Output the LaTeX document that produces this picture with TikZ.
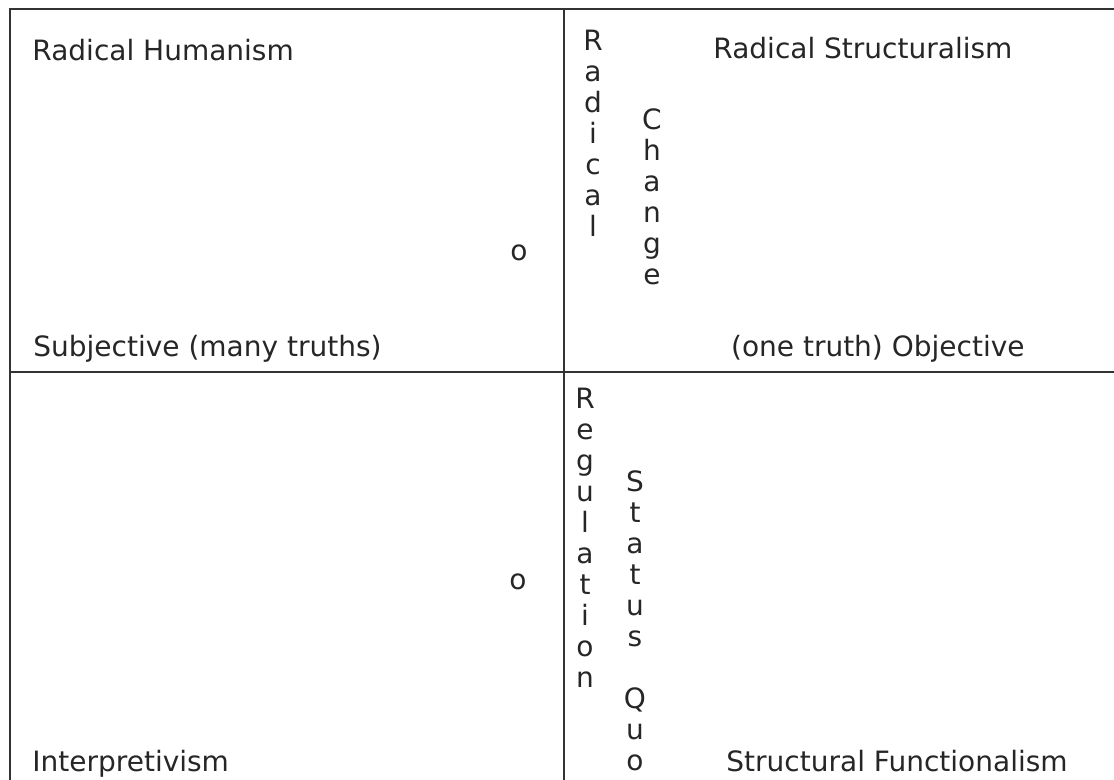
\documentclass[tikz,border=0pt]{standalone}
\usepackage{fontspec}
\setmainfont{DejaVu Sans}
\usetikzlibrary{calc}

\begin{document}
\begin{tikzpicture}[x=0.5pt,y=-0.5pt,
	lbl/.style={font=\fontsize{14}{15.5}\selectfont, inner sep=0pt, text=black!85},
	stack/.style={lbl, align=center, anchor=north},
	rule/.style={line width=1pt, draw=black!80}] % vier Felder
			\useasboundingbox (0,0) rectangle (1114,780);
			\coordinate (tl) at (10,9);
			\coordinate (tr) at (1114,9);
			\coordinate (bl) at (10,780);
			\coordinate (mt) at (564,9);
			\coordinate (mb) at (564,780);
			\coordinate (ml) at (10,372);
			\coordinate (mr) at (1114,372);

			\draw[rule] (bl) -- (tl) -- (tr);
			\draw[rule] (mt) -- (mb);
			\draw[rule] (ml) -- (mr);

			\node[lbl, anchor=base west] (hum) at (32,61) {Radical Humanism};
			\node[lbl, anchor=base west] (struc) at (713,59) {Radical Structuralism};
			\node[lbl, anchor=base west] (subj) at (33,357) {Subjective (many truths)};
			\node[lbl, anchor=base east] (obj) at (1025,357) {(one truth) Objective};
			\node[lbl, anchor=base west] (interp) at (32,771) {Interpretivism};
			\node[lbl, anchor=base east] (func) at (1068,771) {Structural Functionalism};
			\node[lbl] (dotA) at (519,253) {o};
			\node[lbl] (dotB) at (518,582) {o};

			\node[stack] (rad) at (593,30) {R\\a\\d\\i\\c\\a\\l};
			\node[stack] (chg) at (652,108) {C\\h\\a\\n\\g\\e};
			\node[stack] (reg) at (585,388) {R\\e\\g\\u\\l\\a\\t\\i\\o\\n};
			\node[stack] (sq) at (635,470) {S\\t\\a\\t\\u\\s\\ \\Q\\u\\o};
		\end{tikzpicture}
\end{document}
